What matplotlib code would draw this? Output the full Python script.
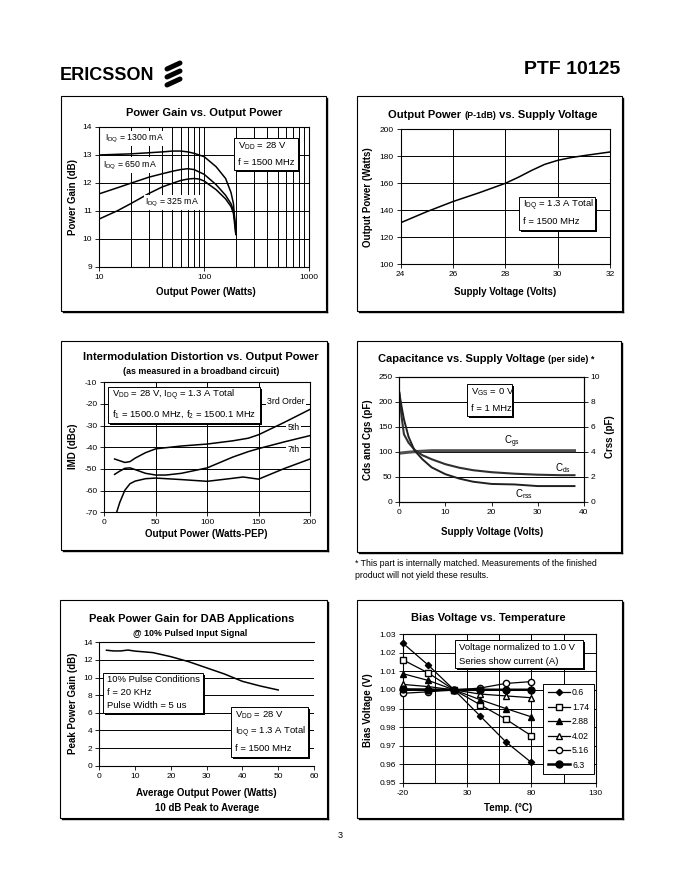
import matplotlib
matplotlib.use('Agg')
import matplotlib.pyplot as plt
from matplotlib.patches import Rectangle
from matplotlib.ticker import NullFormatter
from matplotlib.transforms import offset_copy

plt.rcParams['font.family'] = ['Liberation Sans', 'DejaVu Sans']
plt.rcParams['mathtext.fontset'] = 'custom'
plt.rcParams['mathtext.rm'] = 'Liberation Sans'
plt.rcParams['mathtext.it'] = 'Liberation Sans:italic'
plt.rcParams['mathtext.bf'] = 'Liberation Sans:bold'
plt.rcParams['axes.unicode_minus'] = False

#%%
# Power gain vs output power (log x)
pout_1300 = [10, 20, 30, 40, 50, 60, 70, 80, 100, 130, 160, 180, 190, 200]
gain_1300 = [12.99, 13.03, 13.07, 13.10, 13.13, 13.13, 13.10, 13.05, 12.93, 12.57, 12.15, 11.65, 11.25, 10.2]
pout_650 = [10, 15, 20, 30, 40, 50, 60, 70, 80, 100, 130, 160, 180, 190, 200]
gain_650 = [11.6, 11.82, 11.98, 12.2, 12.32, 12.41, 12.47, 12.5, 12.47, 12.3, 11.93, 11.55, 11.25, 11.0, 10.4]
pout_325 = [10, 15, 20, 30, 40, 50, 60, 70, 80, 90, 100, 130, 160, 180, 190, 200]
gain_325 = [10.7, 11.0, 11.25, 11.62, 11.85, 11.98, 12.08, 12.13, 12.15, 12.13, 12.06, 11.75, 11.42, 11.15, 10.9, 10.15]

# P-1dB vs supply voltage
vdd = [24, 25, 26, 27, 28, 28.5, 29, 29.5, 30, 30.5, 31, 32]
p1db = [130.8, 139, 146.5, 153, 160, 164.5, 169.5, 174, 177, 179, 180.5, 183.2]

# IMD vs output power
pep_3rd = [10, 15, 20, 25, 30, 40, 50, 75, 100, 125, 140, 150, 175, 200]
imd_3rd = [-45.4, -46.2, -47.0, -46.6, -45.0, -42.5, -40.7, -39.4, -38.5, -37.0, -35.8, -34.2, -28.5, -22.5]
pep_5th = [10, 15, 20, 25, 30, 40, 50, 60, 75, 100, 125, 140, 150, 175, 200]
imd_5th = [-52.5, -51.0, -49.7, -49.5, -50.3, -52.0, -52.8, -52.8, -52.0, -49.5, -44.5, -42.0, -40.6, -37.5, -34.6]
pep_7th = [12, 15, 20, 25, 30, 40, 50, 75, 100, 125, 135, 150, 175, 200]
imd_7th = [-70, -65.5, -59.8, -56.8, -55.6, -54.5, -54.2, -54.9, -55.7, -54.3, -53.7, -54.7, -49.8, -45.4]

# Capacitance vs supply voltage
v_cap = [0, 0.5, 1, 2, 3.3, 5, 7, 10, 13, 16, 20, 25, 30, 35, 38]
c_gs = [97, 97.5, 98, 99, 100, 101, 102, 102, 102, 102, 102, 102, 102, 102, 102]
c_ds = [218, 170, 135, 118, 104, 93, 85, 75, 68, 63, 59, 56, 54, 53, 53]
c_rss = [8.7, 7.6, 6.6, 5.2, 4.1, 3.4, 2.75, 2.2, 1.85, 1.6, 1.42, 1.38, 1.25, 1.25, 1.25]

# Peak power gain (DAB)
avg_pwr = [2, 4, 6, 8, 10, 15, 20, 25, 30, 35, 40, 45, 50]
peak_gain = [13.1, 13.02, 13.02, 13.12, 13.0, 12.83, 12.37, 11.8, 11.1, 10.4, 9.57, 9.04, 8.59]

# Bias voltage vs temperature
temp = [-20, 0, 20, 40, 60, 80]
bias_06 = [1.0253, 1.0133, 1.0, 0.9861, 0.9721, 0.9609]
bias_174 = [1.0163, 1.0091, 1.0, 0.9921, 0.9843, 0.9753]
bias_288 = [1.0088, 1.0051, 1.0, 0.9948, 0.9900, 0.9855]
bias_402 = [1.0030, 1.0018, 1.0, 0.9978, 0.9968, 0.9958]
bias_516 = [0.9982, 0.9990, 1.0, 1.0010, 1.0035, 1.0045]
bias_63 = [1.0003, 1.0002, 1.0, 1.0001, 1.0001, 1.0001]
currents = ['0.6', '1.74', '2.88', '4.02', '5.16', '6.3']

#%%
W, H = 680, 880
fig = plt.figure(figsize=(6.8, 8.8), dpi=100)
bg = fig.add_axes([0, 0, 1, 1], zorder=-1)
bg.set_xlim(0, W)
bg.set_ylim(H, 0)
bg.axis('off')

TITLE = 8
SUB = 6.4
LAB = 7
TICK = 6
NOTE = 6.8


def add_ax(x0, x1, yt, yb):
    ax = fig.add_axes([x0 / W, 1 - yb / H, (x1 - x0) / W, (yb - yt) / H])
    ax.tick_params(labelsize=TICK, length=3, width=0.6, pad=2, direction='out')
    for s in ax.spines.values():
        s.set_linewidth(0.8)
    return ax


def frame(x0, y0, x1, y1):
    bg.add_patch(Rectangle((x0, y0), x1 - x0, y1 - y0, fill=False, lw=0.8, ec='black'))
    bg.plot([x1 + 1, x1 + 1], [y0 + 2, y1 + 1], color='black', lw=1.0)
    bg.plot([x0 + 2, x1 + 1], [y1 + 1, y1 + 1], color='black', lw=1.0)


def note(ax, x0, y0, x1, y1, lines, size=NOTE):
    shadow = offset_copy(ax.transAxes, fig=fig, x=2, y=-2, units='dots')
    ax.add_patch(Rectangle((x0, y0), x1 - x0, y1 - y0, transform=shadow,
                           fc='black', ec='none', zorder=5, clip_on=False))
    ax.add_patch(Rectangle((x0, y0), x1 - x0, y1 - y0, transform=ax.transAxes,
                           fc='white', ec='black', lw=0.7, zorder=6, clip_on=False))
    pad = offset_copy(ax.transAxes, fig=fig, x=4, y=0, units='dots')
    n = len(lines)
    for i, s in enumerate(lines):
        ax.text(x0, y1 - (i + 0.5) * (y1 - y0) / n, s, transform=pad,
                fontsize=size, va='center', ha='left', zorder=7)


def grid(ax, axis='both', which='major'):
    ax.grid(True, axis=axis, which=which, color='black', lw=0.7)
    ax.set_axisbelow(True)


wb = dict(facecolor='white', edgecolor='none', pad=0.8)

# header
bg.text(60, 76, 'ERICSSON', fontsize=13, fontweight='bold', va='center', ha='left')
for yc in [66, 74, 82]:
    bg.plot([167, 180], [yc + 3, yc - 3], color='black', lw=3.6, solid_capstyle='round')
bg.text(620, 70, 'PTF 10125', fontsize=14, fontweight='bold', va='center', ha='right')
bg.text(340, 836, '3', fontsize=6.5, va='center', ha='center')

for fr in [(61, 96, 326, 311), (357, 96, 622, 311), (61, 341, 327, 550),
           (357, 341, 621, 552), (60, 600, 327, 818), (357, 600, 622, 818)]:
    frame(*fr)

#%%
# Power Gain vs. Output Power
ax = add_ax(99, 309.3, 126.7, 266.7)
ax.set_xscale('log')
ax.plot(pout_1300, gain_1300, color='black', lw=1.1)
ax.plot(pout_650, gain_650, color='black', lw=1.1)
ax.plot(pout_325, gain_325, color='black', lw=1.1)
ax.set_xlim(10, 1000)
ax.set_ylim(9, 14)
ax.set_yticks(range(9, 15))
ax.set_xticks([10, 100, 1000])
ax.set_xticklabels(['10', '100', '1000'])
ax.xaxis.set_minor_formatter(NullFormatter())
ax.tick_params(which='minor', length=0)
grid(ax, 'x', 'both')
grid(ax, 'y')
lbl = dict(fontsize=6.3, va='center', ha='left', transform=ax.transAxes, bbox=wb, zorder=4)
ax.text(0.028, 0.917, 'I$_{\\mathrm{DQ}}$ = 1300 mA', **lbl)
ax.text(0.02, 0.726, 'I$_{\\mathrm{DQ}}$ = 650 mA', **lbl)
ax.text(0.219, 0.46, 'I$_{\\mathrm{DQ}}$ = 325 mA', **lbl)
note(ax, 0.643, 0.691, 0.948, 0.917, ['V$_{\\mathrm{DD}}$ = 28 V', 'f = 1500 MHz'])
bg.text(204, 113, 'Power Gain vs. Output Power', fontsize=TITLE, fontweight='bold', ha='center', va='center')
bg.text(206, 292.3, 'Output Power (Watts)', fontsize=LAB, fontweight='bold', ha='center', va='center')
bg.text(73.3, 196.7, 'Power Gain (dB)', fontsize=LAB, fontweight='bold', ha='center', va='center', rotation=90)

#%%
# Output Power (P-1dB) vs. Supply Voltage
ax = add_ax(400.7, 610, 129.3, 264.3)
ax.plot(vdd, p1db, color='black', lw=1.1)
ax.set_xlim(24, 32)
ax.set_ylim(100, 200)
ax.set_xticks(range(24, 33, 2))
ax.set_yticks(range(100, 201, 20))
grid(ax)
note(ax, 0.567, 0.254, 0.928, 0.501, ['I$_{\\mathrm{DQ}}$ = 1.3 A Total', 'f = 1500 MHz'])
t1 = bg.text(388.3, 120, 'Output Power ', fontsize=TITLE, fontweight='bold', ha='left', va='bottom')
t2 = bg.annotate('(P-1dB)', xy=(1, 0), xycoords=t1, fontsize=SUB, fontweight='bold', ha='left', va='bottom')
bg.annotate(' vs. Supply Voltage', xy=(1, 0), xycoords=t2, fontsize=TITLE, fontweight='bold', ha='left', va='bottom')
bg.text(505, 291.7, 'Supply Voltage (Volts)', fontsize=LAB, fontweight='bold', ha='center', va='center')
bg.text(368.3, 196.7, 'Output Power (Watts)', fontsize=LAB, fontweight='bold', ha='center', va='center', rotation=90)

#%%
# Intermodulation Distortion vs. Output Power
ax = add_ax(104.3, 310, 382.3, 512.3)
ax.plot(pep_3rd, imd_3rd, color='black', lw=1.1)
ax.plot(pep_5th, imd_5th, color='black', lw=1.1)
ax.plot(pep_7th, imd_7th, color='black', lw=1.1)
ax.set_xlim(0, 200)
ax.set_ylim(-70, -10)
ax.set_xticks(range(0, 201, 50))
ax.set_yticks(range(-70, -9, 10))
grid(ax)
ax.text(176.5, -18.9, '3rd Order', fontsize=6.3, ha='center', va='center', bbox=wb, zorder=4)
ax.text(184, -31, '5th', fontsize=6.3, ha='center', va='center', bbox=wb, zorder=4)
ax.text(184, -41.2, '7th', fontsize=6.3, ha='center', va='center', bbox=wb, zorder=4)
note(ax, 0.019, 0.685, 0.757, 0.966,
     ['V$_{\\mathrm{DD}}$ = 28 V, I$_{\\mathrm{DQ}}$ = 1.3 A Total',
      'f$_{1}$ = 1500.0 MHz, f$_{2}$ = 1500.1 MHz'])
bg.text(201.3, 356.7, 'Intermodulation Distortion vs. Output Power', fontsize=TITLE, fontweight='bold', ha='center', va='center')
bg.text(201, 371.7, '(as measured in a broadband circuit)', fontsize=SUB, fontweight='bold', ha='center', va='center')
bg.text(206.7, 534.3, 'Output Power (Watts-PEP)', fontsize=LAB, fontweight='bold', ha='center', va='center')
bg.text(73.3, 446.7, 'IMD (dBc)', fontsize=LAB, fontweight='bold', ha='center', va='center', rotation=90)

#%%
# Capacitance vs. Supply Voltage
ax = add_ax(399.3, 583.7, 376.7, 501.7)
ax2 = ax.twinx()
ax.plot(v_cap, c_gs, color='#505050', lw=2.2)
ax.plot(v_cap, c_ds, color='#303030', lw=1.5)
ax2.plot(v_cap, c_rss, color='#202020', lw=1.4)
ax.set_xlim(0, 40)
ax.set_ylim(0, 250)
ax2.set_ylim(0, 10)
ax.set_xticks(range(0, 41, 10))
ax.set_yticks(range(0, 251, 50))
ax2.set_yticks(range(0, 11, 2))
ax2.tick_params(labelsize=TICK, length=3, width=0.6, pad=2)
grid(ax, 'y')
ax.text(24.5, 120, 'C$_{\\mathrm{gs}}$', fontsize=7, ha='center', va='center')
ax.text(35.5, 68, 'C$_{\\mathrm{ds}}$', fontsize=7, ha='center', va='center')
ax.text(27, 15, 'C$_{\\mathrm{rss}}$', fontsize=7, ha='center', va='center')
note(ax2, 0.369, 0.686, 0.613, 0.939, ['V$_{\\mathrm{GS}}$ = 0 V', 'f = 1 MHz'])
t1 = bg.text(377.7, 364, 'Capacitance vs. Supply Voltage ', fontsize=TITLE, fontweight='bold', ha='left', va='bottom')
bg.annotate('(per side) *', xy=(1, 0), xycoords=t1, fontsize=SUB, fontweight='bold', ha='left', va='bottom')
bg.text(491.7, 532.3, 'Supply Voltage (Volts)', fontsize=LAB, fontweight='bold', ha='center', va='center')
bg.text(368.3, 440, 'Cds and Cgs (pF)', fontsize=LAB, fontweight='bold', ha='center', va='center', rotation=90)
bg.text(610, 436.7, 'Crss (pF)', fontsize=LAB, fontweight='bold', ha='center', va='center', rotation=90)
bg.text(355, 563, '* This part is internally matched. Measurements of the finished', fontsize=6.3, ha='left', va='center')
bg.text(355, 575, 'product will not yield these results.', fontsize=6.3, ha='left', va='center')

#%%
# Peak Power Gain for DAB Applications
ax = add_ax(99.3, 314, 642.3, 765.7)
ax.plot(avg_pwr, peak_gain, color='black', lw=1.1)
ax.set_xlim(0, 60)
ax.set_ylim(0, 14)
ax.set_xticks(range(0, 61, 10))
ax.set_yticks(range(0, 15, 2))
ax.spines['right'].set_visible(False)
grid(ax, 'y')
note(ax, 0.019, 0.43, 0.484, 0.754, ['10% Pulse Conditions', 'f = 20 KHz', 'Pulse Width = 5 us'])
note(ax, 0.612, 0.073, 0.971, 0.473,
     ['V$_{\\mathrm{DD}}$ = 28 V', 'I$_{\\mathrm{DQ}}$ = 1.3 A Total', 'f = 1500 MHz'])
bg.text(191.3, 619, 'Peak Power Gain for DAB Applications', fontsize=TITLE, fontweight='bold', ha='center', va='center')
bg.text(190.5, 633.3, '@ 10% Pulsed Input Signal', fontsize=SUB, fontweight='bold', ha='center', va='center')
bg.text(206.7, 793.3, 'Average Output Power (Watts)', fontsize=LAB, fontweight='bold', ha='center', va='center')
bg.text(206.7, 807.7, '10 dB Peak to Average', fontsize=LAB, fontweight='bold', ha='center', va='center')
bg.text(73.3, 703.3, 'Peak Power Gain (dB)', fontsize=LAB, fontweight='bold', ha='center', va='center', rotation=90)

#%%
# Bias Voltage vs. Temperature
ax = add_ax(402.7, 595.7, 634.3, 782.7)
mk = dict(color='black', clip_on=False, zorder=3)
ax.plot(temp, bias_06, lw=0.9, marker='D', ms=3.2, mfc='black', label=currents[0], **mk)
ax.plot(temp, bias_174, lw=0.9, marker='s', ms=5, mfc='white', label=currents[1], **mk)
ax.plot(temp, bias_288, lw=0.9, marker='^', ms=5, mfc='black', label=currents[2], **mk)
ax.plot(temp, bias_402, lw=0.9, marker='^', ms=5, mfc='white', label=currents[3], **mk)
ax.plot(temp, bias_516, lw=0.9, marker='o', ms=4.5, mfc='white', label=currents[4], **mk)
ax.plot(temp, bias_63, lw=1.8, marker='o', ms=5, mfc='black', label=currents[5], **mk)
ax.set_xlim(-20, 130)
ax.set_ylim(0.95, 1.03)
ax.set_xticks([-20, 30, 80, 130])
ax.set_xticks([5, 55, 105], minor=True)
ax.tick_params(which='minor', length=0)
ax.set_yticks([0.95 + 0.01 * i for i in range(9)])
ax.set_yticklabels(['%.2f' % (0.95 + 0.01 * i) for i in range(9)])
grid(ax, 'x', 'both')
grid(ax, 'y')
note(ax, 0.271, 0.771, 0.936, 0.962, ['Voltage normalized to 1.0 V', 'Series show current (A)'])
leg = ax.legend(loc='upper left', bbox_to_anchor=(0.728, 0.665), fancybox=False, edgecolor='black',
                fontsize=6.3, handlelength=2.6, labelspacing=0.62, borderpad=0.5,
                handletextpad=0.2, borderaxespad=0, framealpha=1)
leg.get_frame().set_linewidth(0.7)
leg.set_zorder(8)
bg.text(488.3, 618.3, 'Bias Voltage vs. Temperature', fontsize=TITLE, fontweight='bold', ha='center', va='center')
bg.text(508.3, 808.3, 'Temp. (°C)', fontsize=LAB, fontweight='bold', ha='center', va='center')
bg.text(368.3, 710, 'Bias Voltage (V)', fontsize=LAB, fontweight='bold', ha='center', va='center', rotation=90)

fig.savefig('out.png', dpi=100)
